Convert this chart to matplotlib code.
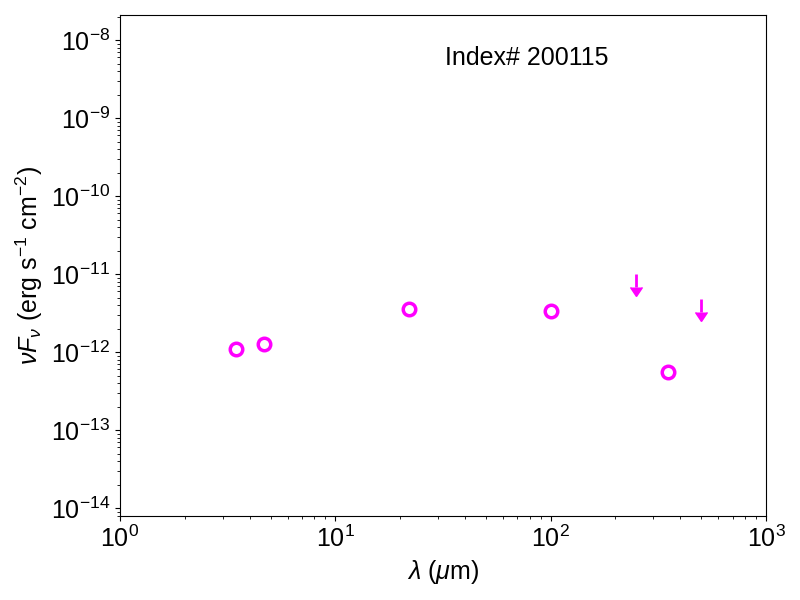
import numpy as np
import matplotlib
matplotlib.use("Agg")
import matplotlib.pyplot as plt
from matplotlib.markers import CARETDOWNBASE

plt.rcParams['font.family'] = ['Liberation Sans', 'DejaVu Sans']
plt.rcParams['mathtext.fontset'] = 'custom'
plt.rcParams['mathtext.rm'] = 'Liberation Sans'
plt.rcParams['mathtext.it'] = 'Liberation Sans:italic'
plt.rcParams['mathtext.bf'] = 'Liberation Sans:bold'

# detections (wavelength in micron, nuFnu in erg/s/cm2)
wave = [3.47, 4.65, 22.0, 100.0, 350.0]
flux = [1.09e-12, 1.27e-12, 3.6e-12, 3.4e-12, 5.6e-13]

# upper limits
wave_ul = [250.0, 500.0]
flux_ul = [1.0e-11, 4.8e-12]

label = "Index# 200115"

fig, ax = plt.subplots(figsize=(8, 6), dpi=100)
fig.subplots_adjust(left=0.15, right=0.9575, top=0.975, bottom=0.14)

ax.plot(wave, flux, 'o', mfc='none', mec='magenta', ms=9, mew=2.5, ls='none')

# upper limit arrows: stem + caret head
ul = np.array(flux_ul)
lo = ul * 0.68
ax.vlines(wave_ul, lo, ul, color='magenta', lw=2)
ax.plot(wave_ul, lo, ls='none', marker=CARETDOWNBASE, ms=9, color='magenta')

ax.set_xscale('log')
ax.set_yscale('log')
ax.set_xlim(1, 1000)
ax.set_ylim(7.9e-15, 2.1e-8)

ax.set_xlabel(r'$\lambda$ ($\mu$m)', fontsize=18)
ax.set_ylabel(r'$\nu F_\nu$ (erg s$^{-1}$ cm$^{-2}$)', fontsize=18)
ax.tick_params(labelsize=18)
ax.text(0.63, 0.9, label, transform=ax.transAxes, fontsize=18, ha='center')

plt.savefig('out.png', dpi=100)
